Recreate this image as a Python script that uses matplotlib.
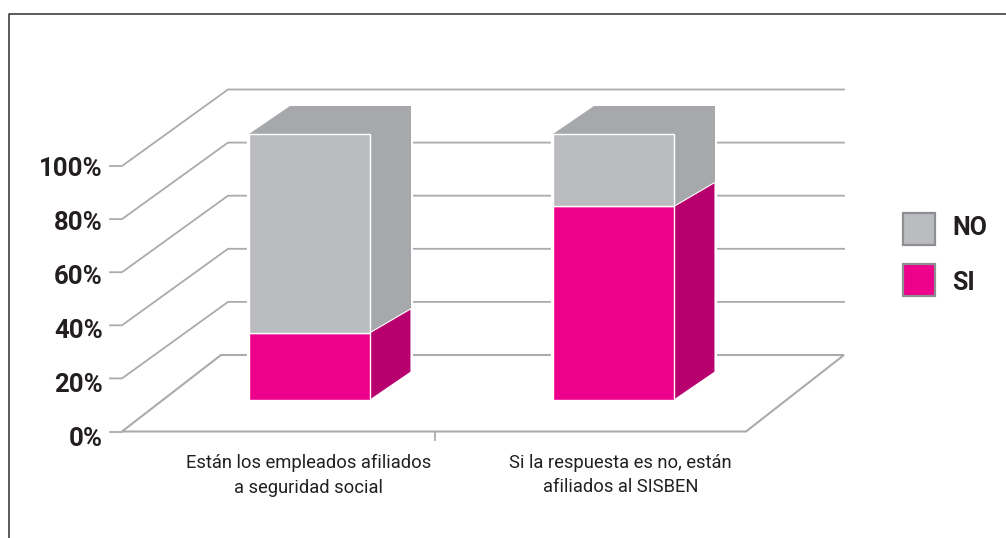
import matplotlib
matplotlib.use('Agg')
import matplotlib.pyplot as plt
from matplotlib.patches import Polygon, Rectangle

categories = ['Están los empleados afiliados\na seguridad social',
              'Si la respuesta es no, están\nafiliados al SISBEN']
si_values = [25.3, 72.8]
no_values = [74.7, 27.2]
tick_values = [0, 20, 40, 60, 80, 100]
tick_labels = ['0%', '20%', '40%', '60%', '80%', '100%']
legend_labels = ['NO', 'SI']

PINK = '#EC008C'
PINK_DARK = '#B7006E'
GREY = '#BBBCBF'
GREY_DARK = '#A7A8AB'
GRID = '#ABABAD'
TEXT = '#231F20'

# layout, in pixels of the 1006x538 picture
WALL_SCALE = 2.655
LABEL_SCALE = 2.70
FRONT_X, FRONT_Y = 122, 431.5
BACK_X, BACK_Y = 228, 355
BACK_RIGHT = 844
BAR_LEFT = [249, 553]
BAR_WIDTH = 121
BAR_Y0 = 400
BAR_SCALE = 2.66
DEPTH_X, DEPTH_Y = 41, -28
SPLIT_DEPTH_Y = -24

plt.rcParams['font.family'] = ['Roboto', 'Liberation Sans', 'DejaVu Sans']

fig = plt.figure(figsize=(10.06, 5.38), dpi=100)
ax = fig.add_axes([0, 0, 1, 1])
ax.set_xlim(0, 1006)
ax.set_ylim(538, 0)
ax.axis('off')

# outer frame, cut by the right and bottom edge of the page
ax.plot([9, 9, 1006], [538, 13.5, 13.5], color='#3F3F41', lw=1.2, zorder=1)

# walls
for value, label in zip(tick_values, tick_labels):
    h = value * WALL_SCALE
    if value > 0:
        ax.plot([110, FRONT_X, BACK_X, BACK_RIGHT],
                [FRONT_Y - h, FRONT_Y - h, BACK_Y - h, BACK_Y - h],
                color=GRID, lw=1.3, zorder=2, solid_joinstyle='miter')
    else:
        ax.plot([110, FRONT_X], [FRONT_Y, FRONT_Y], color=GRID, lw=1.3, zorder=2)
    ax.text(103, FRONT_Y + 8 - value * LABEL_SCALE, label, fontsize=18.5, fontweight='bold',
            color=TEXT, ha='right', va='center')

# floor
ax.add_patch(Polygon([(FRONT_X, FRONT_Y), (221, BACK_Y), (BACK_RIGHT, BACK_Y), (746, FRONT_Y)],
                     closed=True, facecolor='white', edgecolor=GRID, lw=1.5, zorder=2,
                     joinstyle='miter'))
ax.plot([435, 435], [FRONT_Y, 440], color=GRID, lw=1.3, zorder=2)

# bars
for left, si, no in zip(BAR_LEFT, si_values, no_values):
    right = left + BAR_WIDTH
    top_si = BAR_Y0 - si * BAR_SCALE
    top_no = top_si - no * BAR_SCALE
    outline = [(left, BAR_Y0), (left, top_no), (left + DEPTH_X, top_no + DEPTH_Y),
               (right + DEPTH_X, top_no + DEPTH_Y), (right + DEPTH_X, BAR_Y0 + DEPTH_Y), (right, BAR_Y0)]
    ax.add_patch(Polygon(outline, closed=True, facecolor='white', edgecolor='white', lw=3, zorder=3))
    # grey side and top as one shape, so no seam shows between them
    ax.add_patch(Polygon([(left, top_no), (left + DEPTH_X, top_no + DEPTH_Y),
                          (right + DEPTH_X, top_no + DEPTH_Y), (right + DEPTH_X, top_si + SPLIT_DEPTH_Y),
                          (right, top_si), (right, top_no)], closed=True, facecolor=GREY_DARK,
                         edgecolor='none', zorder=4))
    ax.add_patch(Polygon([(right, BAR_Y0), (right, top_si), (right + DEPTH_X, top_si + SPLIT_DEPTH_Y),
                          (right + DEPTH_X, BAR_Y0 + DEPTH_Y)], closed=True, facecolor=PINK_DARK,
                         edgecolor='white', lw=0.8, zorder=4))
    ax.add_patch(Rectangle((left, top_si), BAR_WIDTH, si * BAR_SCALE, facecolor=PINK,
                           edgecolor='white', lw=1.0, zorder=5))
    ax.add_patch(Rectangle((left, top_no), BAR_WIDTH, no * BAR_SCALE, facecolor=GREY,
                           edgecolor='white', lw=1.0, zorder=5))

# category labels
for center, label in zip([308.5, 620.5], categories):
    ax.text(center, 475, label, fontsize=13.2, color=TEXT, ha='center', va='center', linespacing=1.5)

# legend
for y, text_y, label, color in zip([213, 264], [228, 283], legend_labels, [GREY, PINK]):
    ax.add_patch(Rectangle((903, y), 32, 32, facecolor=color, edgecolor='#8E8F92', lw=1.6, zorder=3))
    ax.text(952, text_y, label, fontsize=18, fontweight='bold', color=TEXT, ha='left', va='center')

fig.savefig('out.png', dpi=100)
